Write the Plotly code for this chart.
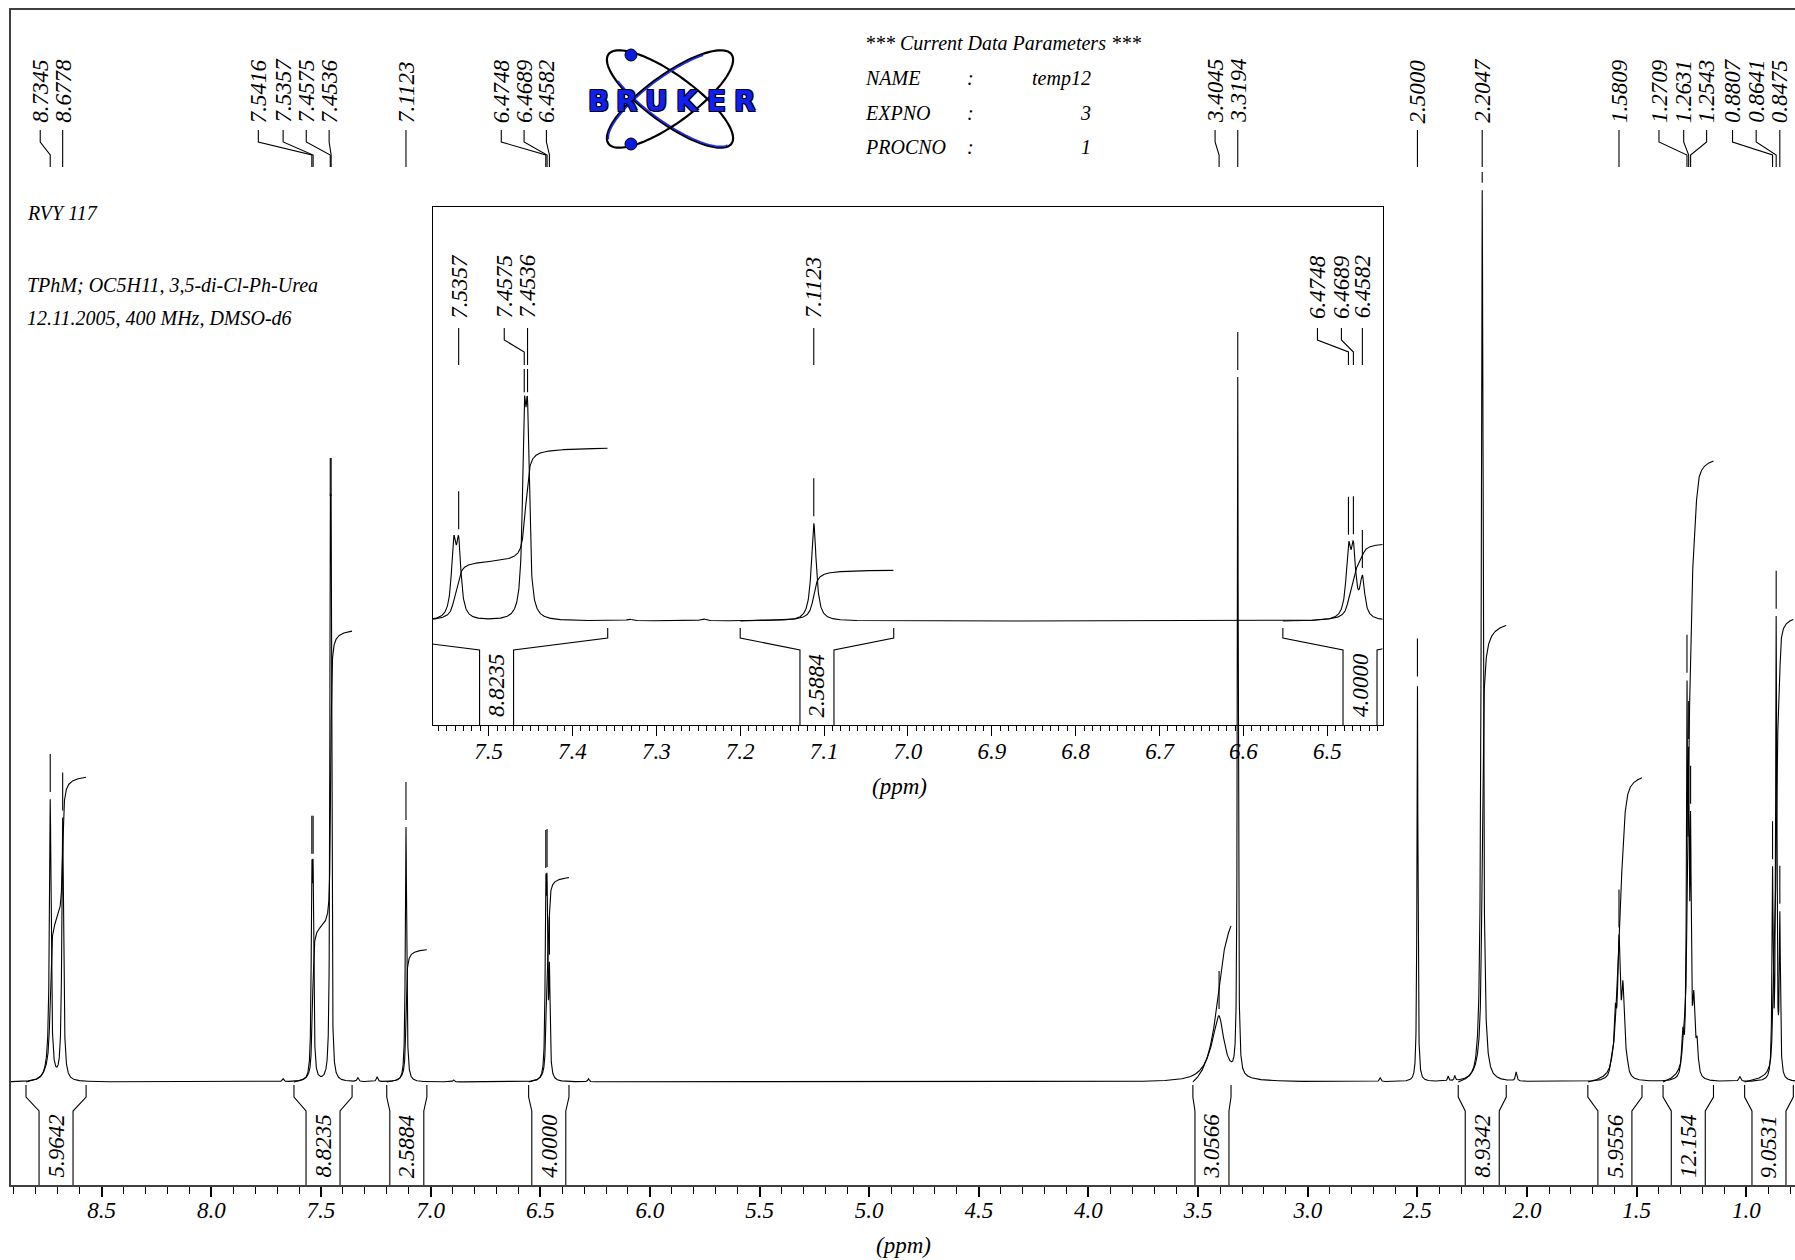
import numpy as np
import plotly.graph_objects as go

# ---------------- data ----------------
# spectrum lines: position (ppm), height (px above baseline, main scale), half width (ppm)
LINE_PPM = [8.745, 8.7345, 8.6778, 7.673, 7.5416, 7.5357, 7.4575, 7.4536, 7.332, 7.244,
            7.1123, 6.895, 6.4748, 6.4689, 6.4582, 6.28,
            3.43, 3.4045, 3.3194, 2.67, 2.5000, 2.36, 2.33, 2.2047, 2.05,
            1.616, 1.598, 1.5809, 1.563, 1.546,
            1.290, 1.2709, 1.2631, 1.2543, 1.240, 1.225, 1.03,
            0.8807, 0.8641, 0.8475]
LINE_HEIGHT = [8, 275, 262, 3, 178, 178, 448, 448, 4, 5,
               255, 2, 165, 160, 100, 3,
               17, 52, 697, 4, 398, 5, 5, 892, 9,
               10, 55, 128, 80, 12,
               40, 355, 260, 220, 70, 30, 5,
               200, 455, 155]
LINE_HWHM = [0.02, 0.0045, 0.0045, 0.004, 0.0033, 0.0033, 0.0025, 0.0025, 0.004, 0.004,
             0.0035, 0.004, 0.0033, 0.0033, 0.0033, 0.004,
             0.05, 0.028, 0.0025, 0.004, 0.0025, 0.003, 0.003, 0.005, 0.004,
             0.007, 0.007, 0.007, 0.007, 0.007,
             0.006, 0.003, 0.003, 0.003, 0.006, 0.006, 0.005,
             0.003, 0.003, 0.003]

# picked peaks
PEAK_LABELS = [8.7345, 8.6778, 7.5416, 7.5357, 7.4575, 7.4536, 7.1123, 6.4748, 6.4689, 6.4582,
               3.4045, 3.3194, 2.5000, 2.2047, 1.5809, 1.2709, 1.2631, 1.2543, 0.8807, 0.8641, 0.8475]
INSET_PEAK_LABELS = [7.5357, 7.4575, 7.4536, 7.1123, 6.4748, 6.4689, 6.4582]

# integral regions
INT_START = [8.845, 7.623, 7.200, 6.553, 3.524, 2.314, 1.723, 1.380, 1.008]
INT_END = [8.571, 7.358, 7.017, 6.369, 3.350, 2.095, 1.476, 1.150, 0.786]
INT_VALUE = [5.9642, 8.8235, 2.5884, 4.0000, 3.0566, 8.9342, 5.9556, 12.154, 9.0531]

TITLE_LINES = ["RVY 117", "TPhM; OC5H11, 3,5-di-Cl-Ph-Urea", "12.11.2005, 400 MHz, DMSO-d6"]
PARAM_NAMES = ["NAME", "EXPNO", "PROCNO"]
PARAM_VALUES = ["temp12", "3", "1"]

# ---------------- layout constants ----------------
W, H = 1795, 1260
ML, MR, MT, MB = 11, 0, 10, 75
PW, PH = W - ML - MR, H - MT - MB
AXIS_PY = H - MB                       # 1185
BASE_PY = 1082                         # main baseline
XMAX, XMIN = 8.9134, 0.7783
# inset geometry
IX0, IX1, ITOP, IAX, IBASE = 432.5, 1382.5, 207, 725, 621
IXMAX, IXMIN = 7.5669, 6.4342
ISCALE = 0.383
K_INT = 51.1                            # px per integral unit
# label shifts (px) relative to peaks, as laid out in the picture
LABEL_SHIFT = [-10, 0, -53.5, -30, -24, -2, 0, -44.5, -23, -3, -4, 0, 0, 0, 0, -28, -5, 16, -40, -20, 0]
INSET_LABEL_SHIFT = [0, -20, 0, 0, -31, -12, 0]

FONT = "Liberation Serif"
INK = "black"


def px_main(p):
    return ML + (XMAX - p) / (XMAX - XMIN) * PW


def ppm_main(x):
    return XMAX - (x - ML) / PW * (XMAX - XMIN)


def px_ins(p):
    return IX0 + (IXMAX - p) / (IXMAX - IXMIN) * (IX1 - IX0)


def ppm_ins(x):
    return IXMAX - (x - IX0) / (IX1 - IX0) * (IXMAX - IXMIN)


def paper_x(x):
    return (x - ML) / PW


def paper_y(y):
    return (AXIS_PY - y) / PH


def spectrum(x):
    x = np.asarray(x, dtype=float)
    s = np.zeros_like(x)
    for p, h, w in zip(LINE_PPM, LINE_HEIGHT, LINE_HWHM):
        s += h * w * w / (w * w + (x - p) ** 2)
    return s


ppm = np.arange(XMAX, XMIN, -0.0004)
spec = spectrum(ppm)

fig = go.Figure()
LW = 1.1

# ---- main spectrum ----
fig.add_trace(go.Scatter(x=ppm, y=spec, mode="lines", line=dict(color=INK, width=LW),
                         xaxis="x", yaxis="y", hoverinfo="skip"))


# ---- integral curves ----
def integral_curves(scale, lo, hi):
    xs, ys = [], []
    for a, b, v in zip(INT_START, INT_END, INT_VALUE):
        if b > hi or a < lo:
            continue
        m = (ppm <= a) & (ppm >= b)
        c = np.cumsum(spec[m])
        c = c / c[-1] * v * K_INT * scale
        xs += list(ppm[m]) + [None]
        ys += list(c) + [None]
    return xs, ys


ix, iy = integral_curves(1.0, XMIN, XMAX)
fig.add_trace(go.Scatter(x=ix, y=iy, mode="lines", line=dict(color=INK, width=LW),
                         xaxis="x", yaxis="y", hoverinfo="skip"))


# ---- peak label lines + markers ----
def label_geometry(peaks, shifts, pxf, inv, base, ys4, clip_py, scale, text_gap):
    lx_, ly_ = [], []
    mx_, my_ = [], []
    ann = []
    for p, sh in zip(peaks, shifts):
        xp = pxf(p)
        xl = xp + sh
        pts = [(xl, ys4[0]), (xl, ys4[1]), (xp, ys4[2]), (xp, ys4[3])]
        lx_ += [inv(q[0]) for q in pts] + [None]
        ly_ += [base - q[1] for q in pts] + [None]
        top_py = base - float(spectrum([p])[0]) * scale
        y_hi = max(top_py - 45, clip_py)
        y_lo = top_py - 7
        if y_lo > y_hi + 2:
            mx_ += [p, p, None]
            my_ += [base - y_hi, base - y_lo, None]
        ann.append((inv(xl), base - (ys4[0] - text_gap), f"{p:.4f}"))
    return lx_, ly_, mx_, my_, ann


lx_, ly_, mx_, my_, main_ann = label_geometry(PEAK_LABELS, LABEL_SHIFT, px_main, ppm_main, BASE_PY,
                                               (130, 142, 155, 167), 172, 1.0, 6)
fig.add_trace(go.Scatter(x=lx_ + mx_, y=ly_ + my_, mode="lines", line=dict(color=INK, width=LW),
                         xaxis="x", yaxis="y", hoverinfo="skip"))


# ---- integral brackets ----
def brackets(pxf, inv, base, left, right, ys4, lbl_py, lo, hi):
    bx, by, ann = [], [], []
    for a, b, v in zip(INT_START, INT_END, INT_VALUE):
        if b > hi or a < lo:
            continue
        xa, xb = pxf(a), pxf(b)
        c = (xa + xb) / 2
        c = min(max(c, left + 18), right - 18)
        il, ir = c - 17, c + 17
        for xo, xi in ((xa, il), (xb, ir)):
            pts = [(xo, ys4[0]), (xo, ys4[1]), (xi, ys4[2]), (xi, ys4[3])]
            bx += [inv(q[0]) for q in pts] + [None]
            by += [base - q[1] for q in pts] + [None]
        ann.append((inv(c), base - lbl_py, f"{v:#.5g}"))
    return bx, by, ann


bx, by, main_int_ann = brackets(px_main, ppm_main, BASE_PY, ML, W, (1085, 1097, 1111, AXIS_PY), 1179,
                                XMIN, XMAX)
fig.add_trace(go.Scatter(x=bx, y=by, mode="lines", line=dict(color=INK, width=LW),
                         xaxis="x", yaxis="y", hoverinfo="skip"))

# ---------------- inset ----------------
mi = (ppm <= IXMAX + 0.01) & (ppm >= IXMIN - 0.01)
fig.add_trace(go.Scatter(x=ppm[mi], y=spec[mi] * ISCALE, mode="lines", line=dict(color=INK, width=LW),
                         xaxis="x2", yaxis="y2", hoverinfo="skip"))
ix2, iy2 = integral_curves(ISCALE, IXMIN, IXMAX)
fig.add_trace(go.Scatter(x=ix2, y=iy2, mode="lines", line=dict(color=INK, width=LW),
                         xaxis="x2", yaxis="y2", hoverinfo="skip"))
lx2, ly2, mx2, my2, ins_ann = label_geometry(INSET_PEAK_LABELS, INSET_LABEL_SHIFT, px_ins, ppm_ins, IBASE,
                                             (328, 340, 352, 365), 369, ISCALE, 8.5)
fig.add_trace(go.Scatter(x=lx2 + mx2, y=ly2 + my2, mode="lines", line=dict(color=INK, width=LW),
                         xaxis="x2", yaxis="y2", hoverinfo="skip"))
bx2, by2, ins_int_ann = brackets(px_ins, ppm_ins, IBASE, IX0, IX1, (628, 638, 650, IAX), 718,
                                 IXMIN, IXMAX)
fig.add_trace(go.Scatter(x=bx2, y=by2, mode="lines", line=dict(color=INK, width=LW),
                         xaxis="x2", yaxis="y2", hoverinfo="skip"))

# ---------------- annotations ----------------
anns = []
lab_font = dict(family=FONT, size=23, color=INK, style="italic")
for x, y, t in main_ann + main_int_ann:
    anns.append(dict(x=x, y=y, xref="x", yref="y", text=t, textangle=-90, showarrow=False,
                     xanchor="center", yanchor="bottom", font=lab_font, borderpad=0))
for x, y, t in ins_ann + ins_int_ann:
    anns.append(dict(x=x, y=y, xref="x2", yref="y2", text=t, textangle=-90, showarrow=False,
                     xanchor="center", yanchor="bottom", font=lab_font, borderpad=0))

txt_font = dict(family=FONT, size=20, color=INK, style="italic")
for t, yy in zip(TITLE_LINES, (213, 285, 318)):
    anns.append(dict(x=paper_x(25), y=paper_y(yy), xref="paper", yref="paper", text=t, showarrow=False,
                     xanchor="left", yanchor="middle", font=txt_font))

anns.append(dict(x=paper_x(863), y=paper_y(43), xref="paper", yref="paper",
                 text="*** Current Data Parameters ***", showarrow=False,
                 xanchor="left", yanchor="middle", font=txt_font))
for n, v, yy in zip(PARAM_NAMES, PARAM_VALUES, (78, 113, 147)):
    anns.append(dict(x=paper_x(863), y=paper_y(yy), xref="paper", yref="paper", text=n, showarrow=False,
                     xanchor="left", yanchor="middle", font=txt_font))
    anns.append(dict(x=paper_x(970), y=paper_y(yy), xref="paper", yref="paper", text=":", showarrow=False,
                     xanchor="center", yanchor="middle", font=txt_font))
    anns.append(dict(x=paper_x(1093), y=paper_y(yy), xref="paper", yref="paper", text=v, showarrow=False,
                     xanchor="right", yanchor="middle", font=txt_font))

anns.append(dict(x=paper_x(903), y=paper_y(1245), xref="paper", yref="paper", text="(ppm)", showarrow=False,
                 xanchor="center", yanchor="middle", font=lab_font))
anns.append(dict(x=paper_x(899), y=paper_y(786), xref="paper", yref="paper", text="(ppm)", showarrow=False,
                 xanchor="center", yanchor="middle", font=lab_font))

# Bruker logo: letters
logo_font = dict(family="DejaVu Sans", size=28, color="#1020f0", weight="bold",
                 shadow="-1px -1px 0 #000, 1px -1px 0 #000, -1px 1px 0 #000, 1px 1px 0 #000")
for ch, cx in zip("BRUKER", (598.5, 626.5, 656.5, 687.5, 716.5, 744.5)):
    anns.append(dict(x=paper_x(cx), y=paper_y(101), xref="paper", yref="paper", text=ch, showarrow=False,
                     xanchor="center", yanchor="middle", font=logo_font))

# Bruker logo: orbits and electrons
shapes = []
t = np.linspace(0, 2 * np.pi, 120)
for ang in (36, -36):
    th = np.radians(ang)
    a, b, cx0, cy0 = 76, 24, 670, 99
    xs = cx0 + a * np.cos(t) * np.cos(th) - b * np.sin(t) * np.sin(th)
    ys = cy0 + a * np.cos(t) * np.sin(th) + b * np.sin(t) * np.cos(th)
    path = "M " + " L ".join(f"{paper_x(x):.5f},{paper_y(y):.5f}" for x, y in zip(xs, ys)) + " Z"
    shapes.append(dict(type="path", path=path, xref="paper", yref="paper", layer="below",
                       line=dict(color="black", width=2.2)))
    tt = np.linspace(np.pi * 0.05, np.pi * 0.75, 40) + (0 if ang > 0 else np.pi)
    xs = cx0 + (a - 1.5) * np.cos(tt) * np.cos(th) - (b - 1.5) * np.sin(tt) * np.sin(th)
    ys = cy0 + (a - 1.5) * np.cos(tt) * np.sin(th) + (b - 1.5) * np.sin(tt) * np.cos(th)
    path = "M " + " L ".join(f"{paper_x(x):.5f},{paper_y(y):.5f}" for x, y in zip(xs, ys))
    shapes.append(dict(type="path", path=path, xref="paper", yref="paper", layer="below",
                       line=dict(color="#1a2af0", width=1.6)))
for cy in (55, 144):
    shapes.append(dict(type="circle", xref="paper", yref="paper",
                       x0=paper_x(631 - 6), x1=paper_x(631 + 6), y0=paper_y(cy + 6), y1=paper_y(cy - 6),
                       fillcolor="#0a1ae0", line=dict(color="black", width=1)))

tickfont = dict(family=FONT, size=23, color=INK, style="italic")
fig.update_layout(
    width=W, height=H, template="none",
    margin=dict(l=ML, r=MR, t=MT, b=MB, pad=0),
    paper_bgcolor="white", plot_bgcolor="rgba(0,0,0,0)",
    showlegend=False,
    annotations=anns, shapes=shapes,
    xaxis=dict(domain=[0, 1], range=[XMAX, XMIN], anchor="y", showline=True, mirror=True,
               linecolor="#404040", linewidth=2, ticks="outside", tickmode="linear", tick0=0, dtick=0.5,
               ticklen=10, tickwidth=1.5, tickcolor=INK, tickfont=tickfont, tickformat=".1f",
               ticklabelstandoff=-7, showgrid=False, zeroline=False,
               minor=dict(dtick=0.1, tick0=0, ticks="outside", ticklen=7, tickwidth=1.2, tickcolor=INK,
                          showgrid=False)),
    yaxis=dict(domain=[0, 1], range=[-(AXIS_PY - BASE_PY), BASE_PY - MT], anchor="x", showline=True,
               mirror=False, linecolor="#404040", linewidth=2, showticklabels=False, ticks="",
               showgrid=False, zeroline=False),
    xaxis2=dict(domain=[paper_x(IX0), paper_x(IX1)], range=[IXMAX, IXMIN], anchor="y2", showline=True,
                mirror=True, linecolor=INK, linewidth=1.3, ticks="outside", tickmode="linear", tick0=0,
                dtick=0.1, ticklen=10, tickwidth=1.3, tickcolor=INK, tickfont=tickfont, tickformat=".1f",
                ticklabelstandoff=-5, showgrid=False, zeroline=False,
                minor=dict(dtick=0.01, tick0=0, ticks="outside", ticklen=5, tickwidth=1, tickcolor=INK,
                           showgrid=False)),
    yaxis2=dict(domain=[paper_y(IAX), paper_y(ITOP)], range=[-(IAX - IBASE), IBASE - ITOP], anchor="x2",
                showline=True, mirror=True, linecolor=INK, linewidth=1.3, showticklabels=False, ticks="",
                showgrid=False, zeroline=False),
)

# the page body has a default 8px margin; remove it so the figure fills the window exactly
fig.write_html("out.html", config={"displayModeBar": False},
               post_script="document.body.style.margin='0px';")
